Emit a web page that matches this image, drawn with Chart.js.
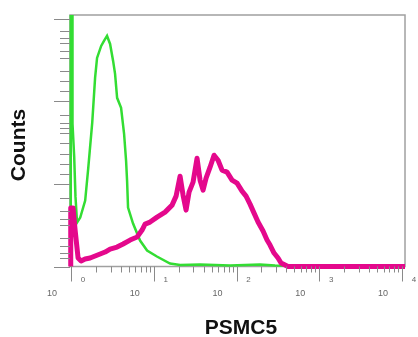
<!DOCTYPE html>
<html><head><meta charset="utf-8">
<script src="https://cdn.jsdelivr.net/npm/chart.js@4/dist/chart.umd.min.js"></script>
<style>html,body{margin:0;padding:0;background:#fff;overflow:hidden}#wrap{width:418px;height:337px}</style>
</head><body><div id="wrap"><canvas id="c" width="418" height="337"></canvas></div>
<script>
const xTitle = 'PSMC5';
const yTitle = 'Counts';
const decadeBase = '10';
const decadeExponents = ['0', '1', '2', '3', '4'];
const decadeValues = [1, 10, 100, 1000, 10000];
const minorMultipliers = [2, 3, 4, 5, 6, 7, 8, 9];
const yMajorTicks = [0, 82.5, 165.5, 247.5];
const yMinorTicks = [8.5, 13.5, 20.5, 28.5, 41.5, 47.5, 55.5, 68.5, 92.5, 102.5, 112.5, 123.5,
  133.5, 138.5, 143.5, 151.5, 175.5, 185.5, 195.5, 208.5, 215.5, 223.5, 228.5, 235.5];

// green histogram (control)
const controlX = [0.99, 0.99, 1.04, 1.04, 1.09, 1.13, 1.18, 1.29, 1.48, 1.61, 1.80, 1.95, 2.06,
  2.31, 2.50, 2.72, 2.96, 3.22, 3.40, 3.60, 4.02, 4.37, 4.62, 4.75, 4.88, 5.61, 6.82, 8.29,
  10.9, 15.7, 20.8, 36.2, 83.5, 192, 292, 10870];
const controlCounts = [0, 270, 270, 143, 110, 70, 44, 49, 66, 98, 144, 189, 209,
  221, 226, 231, 223, 206, 193, 169, 159, 133, 106, 86, 59, 43, 26, 16,
  10, 3, 1.5, 2, 1, 2, 1, 0];

// magenta histogram (PSMC5 stained)
const stainedX = [0.99, 0.99, 1.057, 1.118, 1.215, 1.321, 1.476, 1.697, 1.950, 2.242, 2.576, 2.961,
  3.596, 4.251, 5.164, 6.277, 7.212, 7.839, 9.010, 10.95, 13.68, 16.62, 18.58, 20.76, 22.57,
  24.53, 26.67, 29.81, 33.32, 36.23, 39.37, 42.81, 47.84, 53.47, 59.77, 66.80, 76.78, 88.24,
  101.4, 116.5, 130.3, 145.6, 162.8, 181.9, 209.1, 233.7, 254.0, 283.9, 317.3, 345.0, 385.6,
  419.1, 10870];
const stainedCounts = [0, 58.5, 58.5, 36.5, 8.5, 5.5, 7.5, 8.5, 10.5, 12.5, 14.5, 17.5,
  19.5, 22.5, 26.5, 29.5, 36.5, 42.5, 44.5, 49.5, 54.5, 61.5, 70.5, 90.5, 71.5,
  56.5, 74.5, 84.5, 108.5, 86.5, 76.5, 88.5, 99.5, 111.5, 106.5, 96.5, 94.5, 86.5,
  83.5, 75.5, 70.5, 62.5, 53.5, 44.5, 35.5, 26.5, 21.5, 13.5, 8.5, 3.5, 1.5,
  0, 0];

const toPts = (xs, ys) => xs.map((x, i) => ({x: x, y: ys[i]}));

const decor = {
  id: 'decor',
  beforeDatasetsDraw(chart) {
    const {ctx, chartArea: a} = chart;
    ctx.save();
    ctx.strokeStyle = '#a0a0a0';
    ctx.lineWidth = 1.5;
    ctx.strokeRect(a.left, a.top, a.right - a.left, a.bottom - a.top);
    ctx.restore();
  },
  afterDraw(chart) {
    const {ctx, chartArea: a, scales: {x, y}} = chart;
    ctx.save();
    ctx.strokeStyle = '#8a8a8a';
    ctx.lineWidth = 1;
    yMajorTicks.forEach(v => {
      const p = Math.round(y.getPixelForValue(v)) + 0.5;
      ctx.beginPath(); ctx.moveTo(a.left - 16, p); ctx.lineTo(a.left, p); ctx.stroke();
    });
    yMinorTicks.forEach(v => {
      const p = Math.round(y.getPixelForValue(v)) + 0.5;
      ctx.beginPath(); ctx.moveTo(a.left - 10, p); ctx.lineTo(a.left, p); ctx.stroke();
    });
    decadeValues.forEach((d, i) => {
      const p = Math.round(x.getPixelForValue(d)) + 0.5;
      ctx.beginPath(); ctx.moveTo(p, a.bottom); ctx.lineTo(p, a.bottom + 15); ctx.stroke();
      if (i < decadeValues.length - 1) {
        minorMultipliers.forEach(m => {
          const q = Math.round(x.getPixelForValue(d * m)) + 0.5;
          ctx.beginPath(); ctx.moveTo(q, a.bottom); ctx.lineTo(q, a.bottom + 6); ctx.stroke();
        });
      }
    });
    ctx.fillStyle = '#666';
    ctx.textAlign = 'center';
    ctx.textBaseline = 'middle';
    decadeValues.forEach((d, i) => {
      const p = x.getPixelForValue(d);
      ctx.font = '8px "Liberation Sans", Arial, sans-serif';
      ctx.fillText(decadeExponents[i], p + 12, a.bottom + 13);
      ctx.font = '9px "Liberation Sans", Arial, sans-serif';
      ctx.fillText(decadeBase, p - 19, a.bottom + 27);
    });
    ctx.fillStyle = '#111';
    ctx.font = 'bold 21px "Liberation Sans", Arial, sans-serif';
    ctx.fillText(xTitle, 241, 328);
    ctx.translate(19, 145);
    ctx.rotate(-Math.PI / 2);
    ctx.fillText(yTitle, 0, 0);
    ctx.restore();
  }
};

new Chart(document.getElementById('c'), {
  type: 'line',
  data: {
    datasets: [
      {label: 'PSMC5', data: toPts(stainedX, stainedCounts), borderColor: '#e4088c',
       borderWidth: 5, pointRadius: 0, tension: 0, fill: false, order: 0,
       clip: {left: 6, right: 6, top: 0, bottom: 6}, borderJoinStyle: 'round'},
      {label: 'Control', data: toPts(controlX, controlCounts), borderColor: '#33dd33',
       borderWidth: 2.5, pointRadius: 0, tension: 0, fill: false, order: 1,
       clip: {left: 6, right: 6, top: 0, bottom: 6}}
    ]
  },
  options: {
    responsive: false,
    animation: false,
    devicePixelRatio: 1,
    layout: {padding: {left: 70, right: 13, top: 15, bottom: 70.5}},
    plugins: {legend: {display: false}, tooltip: {enabled: false}},
    scales: {
      x: {type: 'logarithmic', min: 0.97, max: 10870, display: false},
      y: {type: 'linear', min: 0, max: 252, display: false}
    }
  },
  plugins: [decor]
});
</script>
</body></html>
